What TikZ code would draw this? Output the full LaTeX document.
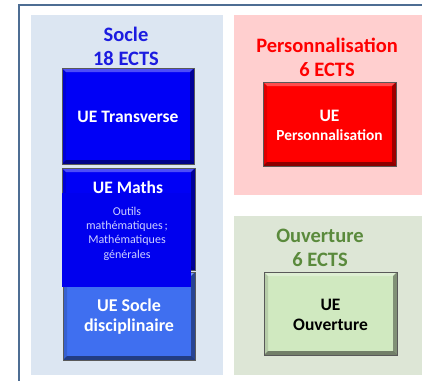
\documentclass[tikz,border=0pt]{standalone}
\usepackage{fontspec}
\setmainfont{Carlito}
\definecolor{frameline}{HTML}{4D6D93}
\definecolor{soclebg}{HTML}{DCE6F2}
\definecolor{persobg}{HTML}{FFCFCF}
\definecolor{ouvbg}{HTML}{DDE6D6}
\definecolor{soclehead}{HTML}{1C1CE0}
\definecolor{ouvhead}{HTML}{5A8A3C}
\definecolor{uebleu}{HTML}{0000F6}
\definecolor{uedisc}{HTML}{3F6FF0}
\definecolor{flatbleu}{HTML}{0000EE}
\definecolor{smalltxt}{HTML}{CDD1FF}
\definecolor{uerouge}{HTML}{FF0000}
\definecolor{uevert}{HTML}{D0E9C0}
\tikzset{
  bevelbox/.style={rectangle, draw=gray!70!black, line width=0.8pt, fill=#1, inner sep=0pt,
    path picture={
      \path (path picture bounding box.south west) coordinate (bsw)
            (path picture bounding box.north east) coordinate (bne);
      \fill[white,opacity=.30] (bsw |- bne) -- (bne) -- ([xshift=-4pt,yshift=-4pt]bne) -- ([xshift=4pt,yshift=-4pt]bsw |- bne) -- cycle;
      \fill[black,opacity=.38] (bsw -| bne) -- (bne) -- ([xshift=-4pt,yshift=-4pt]bne) -- ([xshift=-4pt,yshift=4pt]bsw -| bne) -- cycle;
      \fill[black,opacity=.45] (bsw) -- (bsw -| bne) -- ([xshift=-4pt,yshift=4pt]bsw -| bne) -- ([xshift=4pt,yshift=4pt]bsw) -- cycle;
      \fill[black,opacity=.12] (bsw) -- (bsw |- bne) -- ([xshift=4pt,yshift=-4pt]bsw |- bne) -- ([xshift=4pt,yshift=4pt]bsw) -- cycle;
    }},
  headtxt/.style={align=center, inner sep=0pt, font=\fontsize{20.5}{24}\selectfont\bfseries},
  boxtxt/.style={align=center, inner sep=0pt, font=\fontsize{17.5}{20}\selectfont\bfseries},
  smalltxtstyle/.style={align=center, inner sep=0pt, text=smalltxt, font=\fontsize{12}{14.4}\selectfont}
}
\begin{document}
\begin{tikzpicture}[x=1pt,y=-1pt]
\useasboundingbox (0,0) rectangle (422,380);
\clip (0,0) rectangle (422,380);
\fill[white] (0,0) rectangle (422,380);
% outer frame
\draw[frameline, line width=2.5pt] (19,400) -- (19,5) -- (440,5);
% panels
\fill[soclebg] (31,15) rectangle (223,375);
\fill[persobg] (234,15) rectangle (430,195);
\fill[ouvbg] (234,216) rectangle (430,375);
% headings
\node[headtxt, text=soclehead] (hsocle) at (126,46) {Socle\\18 ECTS};
\node[headtxt, text=uerouge] (hperso) at (327,57) {Personnalisation\\6 ECTS};
\node[headtxt, text=ouvhead] (houv) at (320,247.5) {Ouverture\\6 ECTS};
% socle boxes
\node[bevelbox=uebleu, minimum width=132pt, minimum height=96pt] (transverse) at (128,116) {};
\node[boxtxt, text=white] (transversetxt) at (128,117) {UE Transverse};
\node[bevelbox=uebleu, minimum width=133pt, minimum height=102pt] (maths) at (128.5,219) {};
\node[bevelbox=uedisc, minimum width=132pt, minimum height=88pt] (disc) at (129,316) {};
\fill[flatbleu] (62,193) rectangle (191,287);
\node[boxtxt, text=white] (mathstitle) at (128,187) {UE Maths};
\node[smalltxtstyle] (mathsdetail) at (127,233.5) {Outils\\mathématiques\,;\\Mathématiques\\générales};
\node[boxtxt, text=white, font=\fontsize{18}{20}\selectfont\bfseries] (disctxt) at (129,317) {UE Socle\\disciplinaire};
% personnalisation box
\node[bevelbox=uerouge, minimum width=133pt, minimum height=84pt] (perso) at (329.5,124) {};
\node[boxtxt, text=white] (persoue) at (329.5,116) {UE};
\node[boxtxt, text=white, font=\fontsize{15.4}{18}\selectfont\bfseries] (persotxt) at (329.5,135) {Personnalisation};
% ouverture box
\node[bevelbox=uevert, minimum width=133pt, minimum height=83pt] (ouv) at (330.5,313.5) {};
\node[boxtxt, text=black] (ouvtxt) at (330.5,315) {UE\\Ouverture};
\end{tikzpicture}
\end{document}
